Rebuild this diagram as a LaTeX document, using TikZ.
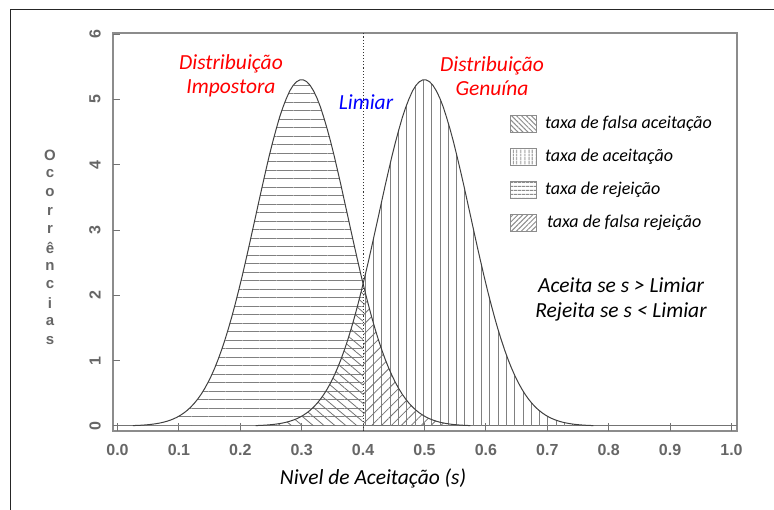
\documentclass[tikz,border=0pt]{standalone}
\usepackage{fontspec}
\setmainfont{Carlito}
\newfontfamily\axisfont{Liberation Sans}
\usetikzlibrary{patterns.meta}

\tikzset{
  frame/.style={draw=black!85, line width=0.8pt},
  axisline/.style={draw=black!45, line width=1.2pt},
  tickline/.style={draw=black!55, line width=1pt},
  curve/.style={draw=black!75, line width=1pt},
  limiar/.style={draw=black!80, line width=1.1pt, dotted},
  ticklab/.style={text=black!60, font=\axisfont\bfseries\fontsize{16}{16}\selectfont},
  ylab/.style={text=black!60, font=\axisfont\bfseries\fontsize{15}{15}\selectfont},
  redlab/.style={text=red, font=\itshape\fontsize{21.5}{24}\selectfont, align=center},
  bluelab/.style={text=blue, font=\itshape\fontsize{21.5}{24}\selectfont},
  blacklab/.style={text=black, font=\itshape\fontsize{21.5}{25}\selectfont, align=center},
  legtext/.style={text=black, font=\itshape\fontsize{18}{18}\selectfont, anchor=west},
  legbox/.style={draw=black!45, line width=0.9pt, minimum width=26pt, minimum height=17pt, inner sep=0pt},
  rej/.style={pattern={Lines[angle=0, distance=8.5pt, line width=0.8pt]}, pattern color=black!50},
  acc/.style={pattern={Lines[angle=90, distance=8.3pt, line width=0.8pt]}, pattern color=black!50},
  fa/.style={pattern={Lines[angle=-40, distance=7pt, line width=0.8pt]}, pattern color=black!55},
  fr/.style={pattern={Lines[angle=45, distance=7pt, line width=0.8pt]}, pattern color=black!55},
  fa small/.style={pattern={Lines[angle=-45, distance=3.5pt, line width=1pt]}, pattern color=black!45},
  acc small/.style={pattern={Lines[angle=90, distance=4pt, line width=1.1pt]}, pattern color=black!45},
  rej small/.style={pattern={Lines[angle=0, distance=4pt, line width=1.1pt]}, pattern color=black!45},
  fr small/.style={pattern={Lines[angle=45, distance=3.5pt, line width=1pt]}, pattern color=black!45}
}

\begin{document}
\begin{tikzpicture}[x=1pt, y=-1pt,
    declare function={imp(\x)=5.3*exp(-((\x-0.3)^2)/(2*0.075^2));
                      gen(\x)=5.3*exp(-((\x-0.5)^2)/(2*0.075^2));}]
  \useasboundingbox (0,0) rectangle (774,510);
  \draw[frame] (10,510) -- (10,9) -- (774,9);

  % box and axes
  \draw[axisline] (113,33) rectangle (737,431);
  \draw[tickline] (113,426) -- (737,426);
  \foreach \v/\t in {0/0.0,1/0.1,2/0.2,3/0.3,4/0.4,5/0.5,6/0.6,7/0.7,8/0.8,9/0.9,10/1.0} {
    \draw[tickline] (117.5+61.4*\v,431) -- ++(0,-8);
    \node[ticklab] (x\v) at (117.5+61.4*\v,450) {\t};
  }
  \foreach \u in {0,...,6} {
    \draw[tickline] (113,426-65.3*\u) -- ++(7,0);
    \node[ticklab, rotate=90] (y\u) at (95,426-65.3*\u) {\u};
  }
  \foreach \ch [count=\i] in {O,c,o,r,r,ê,n,c,i,a,s}
    \node[ylab] (oc\i) at (50,137+18.5*\i) {\ch};

  % curves and areas
  \begin{scope}[shift={(117.5,426)}, x=614pt, y=65.3pt]
    \fill[rej] (0.025,0) -- plot[domain=0.025:0.4, samples=60] (\x,{imp(\x)}) -- (0.4,0) -- cycle;
    \fill[acc] (0.4,0) -- plot[domain=0.4:0.775, samples=60] (\x,{gen(\x)}) -- (0.775,0) -- cycle;
    \fill[fa] (0.225,0) -- plot[domain=0.225:0.4, samples=40] (\x,{gen(\x)}) -- (0.4,0) -- cycle;
    \fill[fr] (0.4,0) -- plot[domain=0.4:0.575, samples=40] (\x,{imp(\x)}) -- (0.575,0) -- cycle;
    \draw[curve] plot[domain=0.025:0.575, samples=100] (\x,{imp(\x)});
    \draw[curve] plot[domain=0.225:0.775, samples=100] (\x,{gen(\x)});
    \coordinate (lim top) at (0.4,6.02);
    \coordinate (lim bot) at (0.4,-0.08);
  \end{scope}
  \draw[limiar] (lim bot) -- (lim top);

  % labels
  \node[redlab] (imp) at (231,76) {Distribuição\\Impostora};
  \node[redlab] (gen) at (492,76) {Distribuição\\Genuína};
  \node[bluelab] (lim) at (366,102) {Limiar};
  \node[blacklab] (regra) at (621,299) {Aceita se \textit{s} > Limiar\\Rejeita se \textit{s} < Limiar};
  \node[blacklab] (xlab) at (373,478) {Nivel de Aceitação (s)};

  % legend
  \node[legbox, fa small] (k1) at (523,124) {};
  \node[legbox, acc small] (k2) at (523,157) {};
  \node[legbox, rej small] (k3) at (523,190) {};
  \node[legbox, fr small] (k4) at (523,223) {};
  \node[legtext] (t1) at ([xshift=5pt]k1.east) {taxa de falsa aceitação};
  \node[legtext] (t2) at ([xshift=5pt]k2.east) {taxa de aceitação};
  \node[legtext] (t3) at ([xshift=5pt]k3.east) {taxa de rejeição};
  \node[legtext] (t4) at ([xshift=7pt]k4.east) {taxa de falsa rejeição};
\end{tikzpicture}
\end{document}
